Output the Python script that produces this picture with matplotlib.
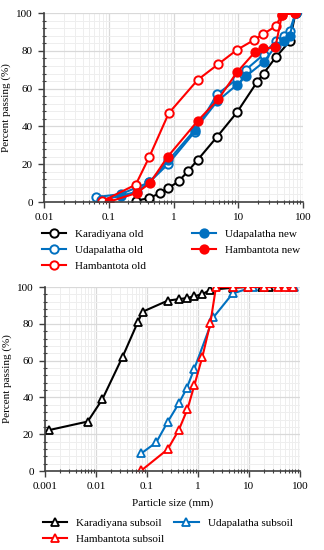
import numpy as np
import matplotlib
matplotlib.use('Agg')
import matplotlib.pyplot as plt
from matplotlib.ticker import LogLocator, MultipleLocator, FixedLocator, FixedFormatter

plt.rcParams['font.family'] = ['Liberation Serif', 'DejaVu Serif']
plt.rcParams['font.size'] = 8

# upper panel: old vs new grading
kar_old_x = [0.264, 0.42, 0.62, 0.83, 1.19, 1.65, 2.36, 4.7, 9.46, 19.2, 24.4, 37.4, 61.6, 76.0]
kar_old_y = [0.7, 2.1, 4.8, 7.4, 10.9, 16.2, 22.4, 34.6, 47.4, 63.3, 68.0, 76.5, 85.0, 100.0]

uda_old_x = [0.064, 0.153, 0.42, 0.83, 2.1, 4.7, 9.46, 13.0, 24.4, 37.4, 49.6, 61.6, 76.0]
uda_old_y = [2.6, 4.2, 10.4, 20.3, 37.0, 57.0, 65.0, 70.0, 78.0, 85.3, 87.6, 90.6, 100.0]

ham_old_x = [0.078, 0.26, 0.42, 0.84, 2.36, 4.9, 9.46, 17.1, 23.9, 37.4, 47.0, 75.0]
ham_old_y = [0.3, 9.2, 23.8, 47.0, 64.7, 73.0, 80.5, 85.6, 88.8, 93.0, 99.1, 100.0]

uda_new_x = [0.075, 0.153, 0.27, 0.42, 0.83, 2.1, 4.7, 9.46, 13.0, 24.4, 37.4, 49.6, 61.6, 76.0]
uda_new_y = [1.2, 3.2, 5.5, 10.4, 22.0, 38.0, 53.3, 62.0, 66.5, 74.0, 82.4, 85.0, 88.0, 100.0]

ham_new_x = [0.102, 0.27, 0.43, 0.81, 2.36, 4.9, 9.46, 18.2, 24.0, 37.0, 47.0, 75.0]
ham_new_y = [0.2, 4.8, 10.0, 24.0, 43.0, 54.5, 68.6, 79.6, 81.3, 81.8, 99.1, 100.0]

# lower panel: subsoils
kar_sub_x = [0.00122, 0.00687, 0.0133, 0.0333, 0.0656, 0.0822, 0.254, 0.43, 0.60, 0.847,
             1.22, 1.75, 4.78, 9.5, 17.7, 25.0, 70.8]
kar_sub_y = [22.3, 26.9, 39.0, 62.2, 80.8, 86.6, 92.6, 93.5, 94.0, 95.0,
             96.2, 98.5, 99.6, 100.0, 100.0, 100.0, 100.0]

uda_sub_x = [0.0774, 0.152, 0.254, 0.43, 0.60, 0.847, 2.0, 4.78, 12.1, 63.0, 75.0]
uda_sub_y = [9.6, 15.6, 26.7, 37.2, 45.0, 55.7, 83.5, 96.5, 100.0, 100.0, 100.0]

ham_sub_x = [0.0774, 0.254, 0.42, 0.62, 0.847, 1.22, 1.74, 2.25, 4.79, 9.5, 20.0, 37.6, 50.8, 74.0]
ham_sub_y = [0.3, 11.8, 22.3, 33.6, 46.6, 62.2, 80.2, 100.0, 100.0, 100.0, 100.0, 100.0, 100.0, 100.0]

BLUE = '#0070C0'
RED = '#FF0000'


def style_axes(ax, xmin, xmax):
    ax.set_xscale('log')
    ax.set_xlim(xmin, xmax)
    ax.set_ylim(0, 100)
    ax.xaxis.set_minor_locator(LogLocator(base=10, subs=np.arange(2, 10), numticks=20))
    ax.xaxis.set_minor_formatter(plt.NullFormatter())
    decades = [10.0 ** k for k in range(int(np.log10(xmin)), int(np.log10(xmax)) + 1)]
    ax.xaxis.set_major_locator(FixedLocator(decades))
    ax.xaxis.set_major_formatter(FixedFormatter(['%g' % d for d in decades]))
    ax.yaxis.set_major_locator(MultipleLocator(20))
    ax.yaxis.set_minor_locator(MultipleLocator(4))
    ax.grid(which='major', color='#d9d9d9', linewidth=0.9)
    ax.grid(which='minor', color='#eeeeee', linewidth=0.7)
    ax.set_axisbelow(True)
    for s in ['top', 'right']:
        ax.spines[s].set_visible(False)
    for s in ['left', 'bottom']:
        ax.spines[s].set_color('#404040')
        ax.spines[s].set_linewidth(1.2)
    ax.tick_params(which='major', direction='out', length=4, width=1, colors='#404040',
                   labelcolor='black', pad=4)
    ax.tick_params(which='minor', direction='inout', length=3, width=0.8, colors='#404040')
    ax.set_ylabel('Percent passing (%)', labelpad=4)


fig = plt.figure(figsize=(3.24, 5.5), dpi=100)

ax1 = fig.add_axes([0.136, 0.6327, 0.80, 0.3436])
style_axes(ax1, 0.01, 100)
kw = dict(linewidth=1.5, markersize=6, markeredgewidth=1.4)
l1, = ax1.plot(kar_old_x, kar_old_y, '-o', color='black', markerfacecolor='white', **kw)
l2, = ax1.plot(uda_old_x, uda_old_y, '-o', color=BLUE, markerfacecolor='white', **kw)
l4, = ax1.plot(uda_new_x, uda_new_y, '-o', color=BLUE, markerfacecolor=BLUE, **kw)
l3, = ax1.plot(ham_old_x, ham_old_y, '-o', color=RED, markerfacecolor='white', **kw)
l5, = ax1.plot(ham_new_x, ham_new_y, '-o', color=RED, markerfacecolor=RED, **kw)
fig.legend([l1, l2, l3, l4, l5],
           ['Karadiyana old', 'Udapalatha old', 'Hambantota old',
            'Udapalatha new', 'Hambantota new'],
           ncol=2, loc='upper left', bbox_to_anchor=(0.115, 0.591),
           frameon=False, handlelength=2.2, handletextpad=0.8,
           columnspacing=4.1, labelspacing=0.55, borderaxespad=0)

ax2 = fig.add_axes([0.139, 0.1436, 0.787, 0.3345])
style_axes(ax2, 0.001, 100)
kw2 = dict(linewidth=1.5, markersize=6, markeredgewidth=1.3, markerfacecolor='white')
m1, = ax2.plot(kar_sub_x, kar_sub_y, '-^', color='black', **kw2)
m2, = ax2.plot(uda_sub_x, uda_sub_y, '-^', color=BLUE, **kw2)
m3, = ax2.plot(ham_sub_x, ham_sub_y, '-^', color=RED, **kw2)
ax2.set_xlabel('Particle size (mm)', labelpad=5)
fig.legend([m1, m3, m2],
           ['Karadiyana subsoil', 'Hambantota subsoil', 'Udapalatha subsoil'],
           ncol=2, loc='upper left', bbox_to_anchor=(0.118, 0.066),
           frameon=False, handlelength=2.2, handletextpad=0.8,
           columnspacing=0.9, labelspacing=0.55, borderaxespad=0)

fig.savefig('out.png', dpi=100)
